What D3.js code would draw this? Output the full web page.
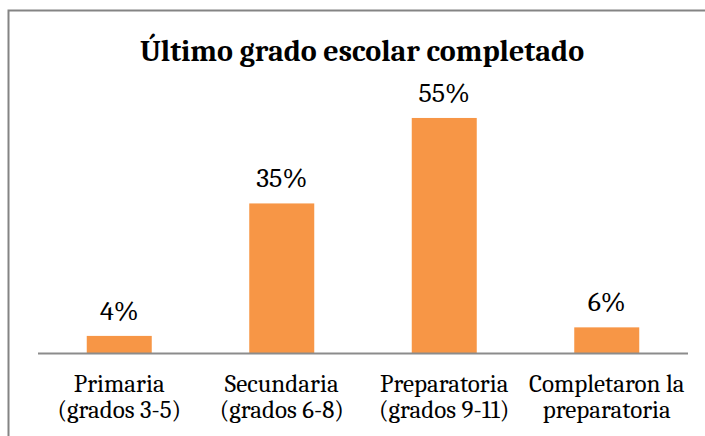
<!DOCTYPE html>
<html lang="es">

<head>
    <meta charset="UTF-8">
    <title>Último grado escolar completado</title>
    <script src="https://d3js.org/d3.v7.min.js"></script>
    <style>
        body { margin: 0; background: #fff; }
        text { font-family: Cambria, "Liberation Serif", serif; fill: #000; }
    </style>
</head>

<body>
    <div id="chart"></div>
    <script>

        // data
        const categories = ["Primaria|(grados 3-5)", "Secundaria|(grados 6-8)", "Preparatoria|(grados 9-11)", "Completaron la|preparatoria"];
        const values = [4, 35, 55, 6];
        const title = "Último grado escolar completado";

        const width = 705, height = 436;
        const plotLeft = 38, plotRight = 688, baseY = 353;

        const svg = d3.select("#chart")
            .append("svg")
            .attr("width", width)
            .attr("height", height);

        // chart frame (only top and left edges are visible)
        svg.append("path")
            .attr("d", `M8.5,${height} V10.5 H${width}`)
            .attr("fill", "none")
            .attr("stroke", "#848484")
            .attr("stroke-width", 2);

        const x = d3.scaleBand()
            .domain(categories)
            .range([plotLeft, plotRight])
            .paddingInner(0.6)
            .paddingOuter(0.3);

        const y = d3.scaleLinear()
            .domain([0, 60])
            .range([baseY, baseY - 256.4]);

        svg.selectAll("rect.bar")
            .data(values)
            .join("rect")
            .attr("class", "bar")
            .attr("x", (d, i) => x(categories[i]))
            .attr("y", d => y(d))
            .attr("width", x.bandwidth())
            .attr("height", d => y(0) - y(d))
            .attr("fill", "#F79646");

        // value labels
        svg.selectAll("text.val")
            .data(values)
            .join("text")
            .attr("class", "val")
            .attr("x", (d, i) => x(categories[i]) + x.bandwidth() / 2)
            .attr("y", d => y(d) - 16)
            .attr("text-anchor", "middle")
            .style("font-size", "28px")
            .text(d => d + "%");

        // x axis line
        svg.append("line")
            .attr("x1", plotLeft).attr("x2", plotRight)
            .attr("y1", baseY + 0.5).attr("y2", baseY + 0.5)
            .attr("stroke", "#8c8c8c")
            .attr("stroke-width", 2);

        // category labels, two lines each
        const lab = svg.selectAll("text.cat")
            .data(categories)
            .join("text")
            .attr("class", "cat")
            .attr("text-anchor", "middle")
            .style("font-size", "25px");

        lab.selectAll("tspan")
            .data(d => d.split("|").map(t => ({ t, c: d })))
            .join("tspan")
            .attr("x", d => x(d.c) + x.bandwidth() / 2)
            .attr("y", (d, i) => 392 + i * 26)
            .text(d => d.t);

        svg.append("text")
            .attr("x", 362)
            .attr("y", 61)
            .attr("text-anchor", "middle")
            .style("font-size", "30px")
            .style("font-weight", "bold")
            .text(title);
    </script>
</body>

</html>
